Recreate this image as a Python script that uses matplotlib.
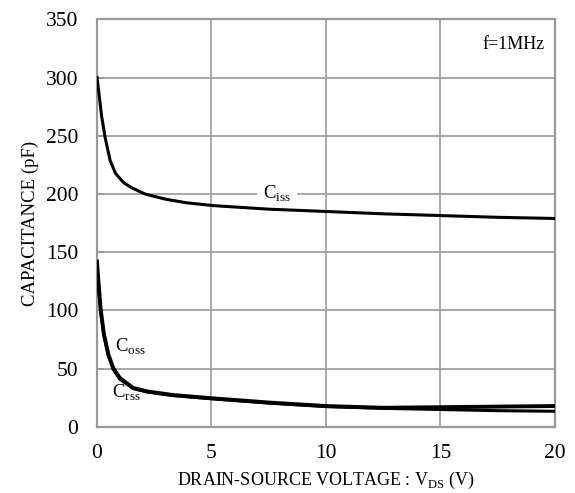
import matplotlib.pyplot as plt

plt.rcParams['font.family'] = ['Liberation Serif', 'DejaVu Serif']

# values
v_iss = [0, 0.1, 0.2, 0.35, 0.57, 0.8, 1.15, 1.5, 2.1, 3, 3.9, 5.1, 7.5, 10, 12.5, 15, 17.5, 20]
c_iss = [300, 284, 267, 249, 229, 218, 210, 205.5, 200, 195.5, 192.5, 190, 187, 185, 183, 181.5, 180, 179]

v_cap = [0, 0.05, 0.16, 0.3, 0.5, 0.71, 1.0, 1.58, 2.2, 3.3, 4.8, 7.5, 10, 12.5, 15, 17.5, 20]
c_oss = [142, 128, 101, 80, 62, 50.5, 42, 33.5, 30.5, 27.5, 25, 21, 18, 16.5, 17, 17.5, 18]
c_rss = [140, 126, 99, 78.5, 61, 49.5, 41, 33, 30, 27, 24.5, 20.5, 17.5, 16, 15, 14, 13.5]

fig = plt.figure(figsize=(5.75, 4.93), dpi=100)
ax = fig.add_axes([0.1687, 0.1339, 0.7965, 0.827])

ax.plot(v_iss, c_iss, color='black', lw=2.2, zorder=3)
ax.plot(v_cap, c_oss, color='black', lw=2.8, zorder=3)
ax.plot(v_cap, c_rss, color='black', lw=2.2, zorder=3)

ax.set_xlim(0, 20)
ax.set_ylim(0, 350)
ax.set_xticks([0, 5, 10, 15, 20])
ax.set_yticks(range(0, 351, 50))
ax.grid(True, color='#999999', lw=1.2)
for s in ax.spines.values():
    s.set_color('#999999')
    s.set_linewidth(1.6)
ax.tick_params(direction='in', length=5, color='#999999', width=1.4,
               labelsize=15.5, pad=13.5)
ax.tick_params(axis='x', length=0, pad=12)

ax.set_ylabel('CAPACITANCE (pF)', fontsize=13.5, labelpad=5)
ax.set_xlabel(r'DRAIN-SOURCE VOLTAGE : V$_{\mathregular{DS}}$ (V)', fontsize=13, labelpad=5)

ax.text(19.55, 328, 'f=1MHz', fontsize=13, ha='right', va='center')
ax.text(7.86, 200, r'C$_{\mathregular{iss}}$', fontsize=13.5, ha='center', va='center',
        bbox=dict(facecolor='white', edgecolor='none', pad=4), zorder=2.5)
ax.text(0.8, 69, r'C$_{\mathregular{oss}}$', fontsize=13.5, ha='left', va='center', zorder=4)
ax.text(0.65, 29, r'C$_{\mathregular{rss}}$', fontsize=13.5, ha='left', va='center', zorder=4)

fig.savefig('out.png', dpi=100)
